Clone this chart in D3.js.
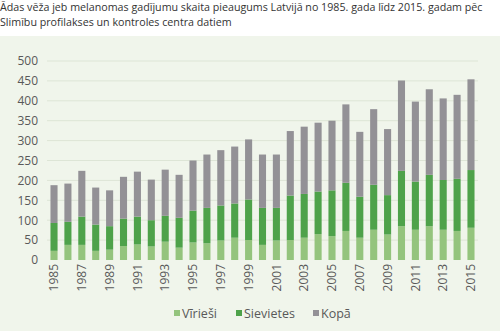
<!DOCTYPE html>
<html><head><meta charset="utf-8">
<script src="https://cdn.jsdelivr.net/npm/d3@7"></script>
<style>body{margin:0;background:#fff}svg{display:block}</style>
</head><body>
<svg id="c" width="500" height="336"></svg>
<script>
const years = d3.range(1985, 2016).map(String);
const viriesi = [23,38,38,23,26,35,39,34,46,31,44,42,49,56,50,38,49,50,56,65,60,73,56,76,64,85,76,85,76,73,81];
const sievietes = [70,58,71,66,59,69,70,66,65,75,80,89,88,86,102,93,82,112,110,107,115,121,103,113,99,139,121,129,125,131,145];
const kopa = [95,96,115,93,90,105,113,102,116,108,126,134,139,143,151,134,134,162,169,173,175,197,163,190,166,227,201,215,205,211,228];
const seriesNames = ["Vīrieši","Sievietes","Kopā"];
const colors = ["#94c47d","#4ea24a","#939196"];
const yTicks = [0,50,100,150,200,250,300,350,400,450,500];
const titleLines = ["Ādas vēža jeb melanomas gadījumu skaita pieaugums Latvijā no 1985. gada līdz 2015. gadam pēc","Slimību profilakses un kontroles centra datiem"];

const svg = d3.select("#c");
const font = "'Open Sans', sans-serif";
svg.append("rect").attr("x",0).attr("y",36).attr("width",500).attr("height",295).attr("fill","#f0f5eb");

svg.selectAll("text.title").data(titleLines).join("text")
  .attr("x",0).attr("y",(d,i)=>11+i*15)
  .attr("font-family",font).attr("font-size",10.7).attr("fill","#333")
  .text(d=>d);

const x = d3.scaleBand().domain(years).range([47,478]).paddingInner(0.49).paddingOuter(0.25);
const y = d3.scaleLinear().domain([0,500]).range([260,61]);

const g = svg.append("g");
g.selectAll("line.grid").data(yTicks.slice(1)).join("line")
  .attr("x1",47).attr("x2",478).attr("y1",d=>y(d)).attr("y2",d=>y(d))
  .attr("stroke","#dde5d6").attr("stroke-width",1);

const table = years.map((yr,i)=>({year:yr, "Vīrieši":viriesi[i], "Sievietes":sievietes[i], "Kopā":kopa[i]}));
const stack = d3.stack().keys(seriesNames)(table);
g.selectAll("g.s").data(stack).join("g").attr("fill",(d,i)=>colors[i])
  .selectAll("rect").data(d=>d).join("rect")
  .attr("x",d=>x(d.data.year)).attr("width",x.bandwidth())
  .attr("y",d=>y(d[1])).attr("height",d=>y(d[0])-y(d[1]));

// y axis
const ya = svg.append("g").attr("transform","translate(38,0)")
  .call(d3.axisLeft(y).tickValues(yTicks).tickSize(0).tickPadding(0));
ya.select(".domain").remove();
ya.selectAll("text").attr("font-family",font).attr("font-size",12).attr("fill","#595959");

// x axis
const xa = svg.append("g").attr("transform","translate(0,264)")
  .call(d3.axisBottom(x).tickValues(years.filter((d,i)=>i%2===0)).tickSize(0).tickPadding(0));
xa.select(".domain").remove();
xa.selectAll("text").attr("font-family",font).attr("font-size",12).attr("fill","#595959")
  .attr("text-anchor","end").attr("dx","0").attr("dy","0.35em")
  .attr("x",0).attr("y",0).attr("transform","rotate(-90)");

// legend
const legX = [174,236,313];
const leg = svg.append("g");
seriesNames.forEach((n,i)=>{
  leg.append("rect").attr("x",legX[i]).attr("y",310).attr("width",6).attr("height",6).attr("fill",colors[i]);
  leg.append("text").attr("x",legX[i]+8).attr("y",317.5).attr("font-family",font).attr("font-size",12.5).attr("fill","#595959").text(n);
});
</script>
</body></html>
